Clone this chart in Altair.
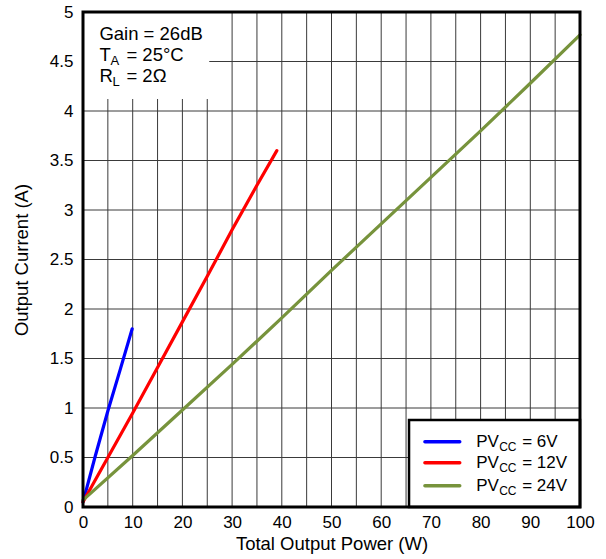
import altair as alt
import pandas as pd

# ---- data ----
x_tick_values = list(range(0, 101, 10))
y_tick_values = [0, 0.5, 1, 1.5, 2, 2.5, 3, 3.5, 4, 4.5, 5]
x_grid_values = list(range(5, 100, 5))
y_grid_values = [0.5, 1, 1.5, 2, 2.5, 3, 3.5, 4, 4.5]

p6_power = [0, 2.5, 5, 7.5, 9.9]
p6_current = [0.05, 0.52, 0.97, 1.39, 1.8]

p12_power = [0, 5, 10, 15, 20, 25, 30, 35, 39]
p12_current = [0.05, 0.5, 0.95, 1.41, 1.87, 2.33, 2.8, 3.25, 3.6]

p24_power = [0, 10, 20, 30, 40, 50, 60, 70, 80, 90, 100]
p24_current = [0.07, 0.52, 0.98, 1.44, 1.91, 2.39, 2.86, 3.33, 3.8, 4.28, 4.77]

series_names = ["6V", "12V", "24V"]
series_colors = ["#0000FF", "#FF0000", "#77933C"]

FONT = "Liberation Sans"
W, H = 497, 495

rows = []
for name, xs_, ys_ in [("6V", p6_power, p6_current),
                       ("12V", p12_power, p12_current),
                       ("24V", p24_power, p24_current)]:
    for i, (a, b) in enumerate(zip(xs_, ys_)):
        rows.append({"series": name, "order": i, "power": a, "current": b})
df = pd.DataFrame(rows)

xs = alt.Scale(domain=[0, 100], nice=False, zero=False)
ys = alt.Scale(domain=[0, 5], nice=False, zero=False)

x_axis = alt.Axis(values=x_tick_values, title="Total Output Power (W)", grid=False,
                  domain=False, ticks=False, labelPadding=7, titlePadding=4,
                  labelFontSize=17, titleFontSize=18.5, labelFont=FONT, titleFont=FONT,
                  labelColor="black", titleColor="black", titleFontWeight="normal",
                  labelFlush=False)
y_axis = alt.Axis(values=y_tick_values, title="Output Current (A)", grid=False, format="~g",
                  domain=False, ticks=False, labelPadding=10, titlePadding=18,
                  labelFontSize=17, titleFontSize=18.5, labelFont=FONT, titleFont=FONT,
                  labelColor="black", titleColor="black", titleFontWeight="normal",
                  labelFlush=False)

vgrid = alt.Chart(pd.DataFrame({"g": x_grid_values})).mark_rule(
    color="#3a3a3a", strokeWidth=1).encode(
    x=alt.X("g:Q", scale=xs, axis=x_axis))
hgrid = alt.Chart(pd.DataFrame({"g": y_grid_values})).mark_rule(
    color="#3a3a3a", strokeWidth=1).encode(
    y=alt.Y("g:Q", scale=ys, axis=y_axis))

lines = alt.Chart(df).mark_line(strokeWidth=3.2, strokeCap="round").encode(
    x=alt.X("power:Q", scale=xs),
    y=alt.Y("current:Q", scale=ys),
    color=alt.Color("series:N", scale=alt.Scale(domain=series_names, range=series_colors),
                    legend=None),
    order="order:Q",
    detail="series:N",
)

# annotation block (white box top-left)
ann_box = alt.Chart(pd.DataFrame({"a": [0]})).mark_rect(fill="white", stroke=None).encode(
    x=alt.datum(0, scale=xs), x2=alt.datum(25.4),
    y=alt.datum(4.12, scale=ys), y2=alt.datum(5))


def txt(s, x, y, size, dx=0, dy=0):
    return alt.Chart(pd.DataFrame({"a": [0]})).mark_text(
        text=s, align="left", baseline="alphabetic", font=FONT, fontSize=size,
        color="black", dx=dx, dy=dy).encode(
        x=alt.datum(x, scale=xs), y=alt.datum(y, scale=ys))


ann_x = 3.3
ann = [
    txt("Gain = 26dB", ann_x, 4.717, 18.5),
    txt("T", ann_x, 4.505, 18.5),
    txt("A", ann_x, 4.505, 13, dx=11, dy=4),
    txt("= 25°C", ann_x, 4.505, 18.5, dx=27),
    txt("R", ann_x, 4.293, 18.5),
    txt("L", ann_x, 4.293, 13, dx=13, dy=4),
    txt("= 2Ω", ann_x, 4.293, 18.5, dx=27),
]

# custom legend box (bottom right)
leg_box = alt.Chart(pd.DataFrame({"a": [0]})).mark_rect(
    fill="white", stroke="black", strokeWidth=2.5).encode(
    x=alt.datum(65.6, scale=xs), x2=alt.datum(100),
    y=alt.datum(0, scale=ys), y2=alt.datum(0.88))

leg_rows_y = [0.66, 0.447, 0.215]
leg = []
for name, col, yy in zip(series_names, series_colors, leg_rows_y):
    leg.append(alt.Chart(pd.DataFrame({"a": [0]})).mark_rule(
        color=col, strokeWidth=3.5, strokeCap="round").encode(
        x=alt.datum(68.8, scale=xs), x2=alt.datum(75.8),
        y=alt.datum(yy, scale=ys)))
    t = alt.Chart(pd.DataFrame({"a": [0]}))
    base = dict(align="left", baseline="middle", font=FONT, color="black")
    leg.append(t.mark_text(text="PV", fontSize=17, **base).encode(
        x=alt.datum(79.1, scale=xs), y=alt.datum(yy, scale=ys)))
    leg.append(t.mark_text(text="CC", fontSize=12, dx=23, dy=5, **base).encode(
        x=alt.datum(79.1, scale=xs), y=alt.datum(yy, scale=ys)))
    leg.append(t.mark_text(text="= " + name, fontSize=17, dx=46, **base).encode(
        x=alt.datum(79.1, scale=xs), y=alt.datum(yy, scale=ys)))

frame = alt.Chart(pd.DataFrame({"a": [0]})).mark_rect(
    filled=False, stroke="black", strokeWidth=3).encode(
    x=alt.value(0), x2=alt.value(W), y=alt.value(0), y2=alt.value(H))

chart = alt.layer(vgrid, hgrid, lines, ann_box, *ann, leg_box, *leg, frame).properties(
    width=W, height=H,
    autosize=alt.AutoSizeParams(type="none"),
    padding={"left": 83, "top": 12, "right": 26, "bottom": 52},
    background="white",
).configure_view(stroke=None)

chart.save("out.html", embed_options={"renderer": "svg", "actions": False})
